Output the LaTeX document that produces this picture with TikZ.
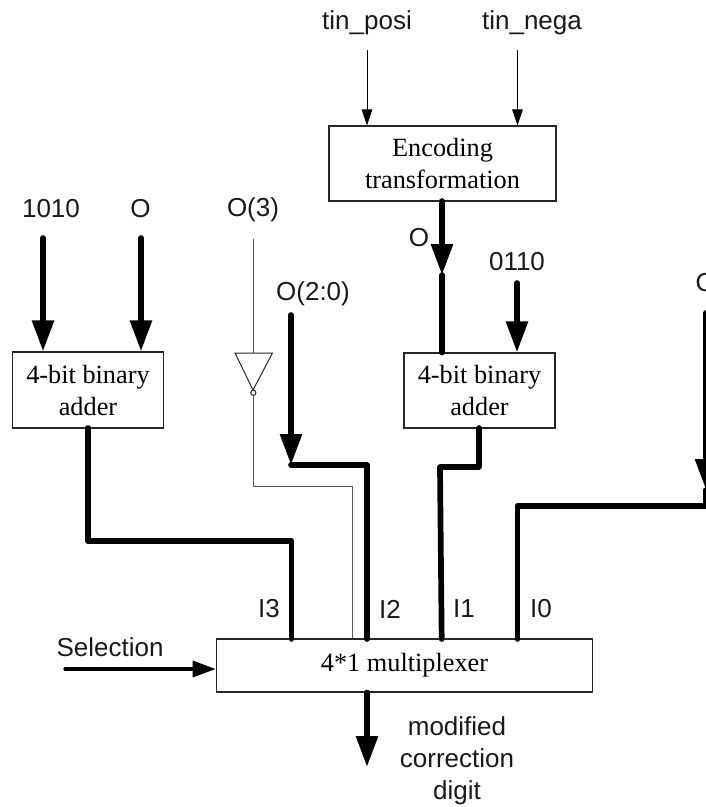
\documentclass[tikz,border=0pt]{standalone}
\usepackage{fontspec}
\setmainfont{Liberation Serif}
\newfontfamily\arialfont{Liberation Sans}
\usetikzlibrary{arrows.meta,calc}
\tikzset{
  blockbox/.style={draw=black!85,line width=1.1pt,inner sep=0pt,align=center,
    font=\fontsize{26.3}{32}\selectfont},
  lbl/.style={inner sep=0pt,align=center,text=black!90,font=\arialfont\fontsize{26}{32}\selectfont},
  bus/.style={line width=5.7pt,line cap=round,line join=round,black},
  busarrow/.style={bus,-{Triangle[length=31pt,width=21pt]}},
  thinarrow/.style={line width=1pt,black,-{Triangle[length=16pt,width=10.5pt]}},
  selarrow/.style={line width=3.2pt,line cap=round,-{Triangle[length=23pt,width=16pt]}},
  thinwire/.style={line width=1pt,black!65,line join=miter},
  gate/.style={draw=black!85,line width=1pt,fill=white},
}
\begin{document}
\begin{tikzpicture}[x=1pt,y=-1pt]
\clip (0,0) rectangle (706,807);
% blocks
\node[blockbox,minimum width=227pt,minimum height=75pt] (enc) at (442.5,163.5) {Encoding\\transformation};
\node[blockbox,minimum width=150.5pt,minimum height=76pt] (addl) at (88,390) {4-bit binary\\adder};
\node[blockbox,minimum width=151pt,minimum height=75pt] (addr) at (479.5,390.5) {4-bit binary\\adder};
\node[blockbox,minimum width=376.5pt,minimum height=53pt] (mux) at (404.5,665.5) {4*1 multiplexer};
% labels
\node[lbl] (tp) at (367,23) {tin\_posi};
\node[lbl] (tn) at (532,23) {tin\_nega};
\node[lbl] (l1010) at (51,209) {1010};
\node[lbl] (lo1) at (140.5,208.5) {O};
\node[lbl] (lo3) at (253,210) {O(3)};
\node[lbl] (lo20) at (313,294) {O(2:0)};
\node[lbl] (lo2) at (419,238) {O};
\node[lbl] (l0110) at (517,262) {0110};
\node[lbl,anchor=west] (lo4) at (695.5,283) {O};
\node[lbl] (li3) at (269,609) {I3};
\node[lbl] (li2) at (390,609) {I2};
\node[lbl] (li1) at (464,609) {I1};
\node[lbl] (li0) at (541,609) {I0};
\node[lbl] (lsel) at (110,647) {Selection};
\node[lbl] (lout) at (457,761) {modified\\correction\\digit};
% free ends
\coordinate (a1) at (367,50);
\coordinate (a2) at (517.5,50);
\coordinate (b1) at (43,238);
\coordinate (b2) at (141,238);
\coordinate (b3) at (291,315);
\coordinate (b3t) at (291,465);
\coordinate (c1) at (517,283);
\coordinate (d1) at (706,313);
\coordinate (d1t) at (706,490);
\coordinate (e1) at (442,201);
\coordinate (e2) at (442,275);
\coordinate (sel) at (65,669);
\coordinate (out) at (367,767);
% thin inputs
\draw[thinarrow] (a1) -- (a1 |- enc.north);
\draw[thinarrow] (a2) -- (a2 |- enc.north);
% inverter
\coordinate (inv1) at (253,239);
\coordinate (invt) at (253,353);
\coordinate (invb) at (253,390);
\coordinate (invo) at (253,396);
\coordinate (invk) at (253,486);
\coordinate (invm) at (352,486);
\draw[thinwire] (inv1) -- (invt);
\draw[thinwire] (invo) -- (invk) -- (invm) -- (invm |- mux.north);
\draw[gate,line join=miter] (235,353) -- (272.5,353) -- (invb) -- cycle;
\draw[gate] (253.3,392.8) circle (2.6pt);
% buses with heads
\draw[busarrow] (b1) -- (b1 |- addl.north);
\draw[busarrow] (b2) -- (b2 |- addl.north);
\draw[busarrow] (c1) -- (c1 |- addr.north);
\draw[busarrow] (b3) -- (b3t);
\draw[busarrow] (d1) -- (d1t);
\draw[busarrow] (e1) -- (e2);
\draw[selarrow] (sel) -- (sel -| mux.west);
\draw[busarrow] (out |- mux.south) -- (out);
% buses into the multiplexer
\draw[bus] (e2) -- (e2 |- addr.north);
\draw[bus] (88,428) -- (88,541) -- (291.5,541) -- (291.5,639);
\draw[bus] (b3t) -- (367,465) -- (367,639);
\draw[bus] (479,428) -- (479,467) -- (440,467) -- (441.7,639);
\draw[bus] (706,505.7) -- (517.5,505.7) -- (517.5,639);
\draw[bus] (706,490) -- (706,505.7);
\end{tikzpicture}
\end{document}
